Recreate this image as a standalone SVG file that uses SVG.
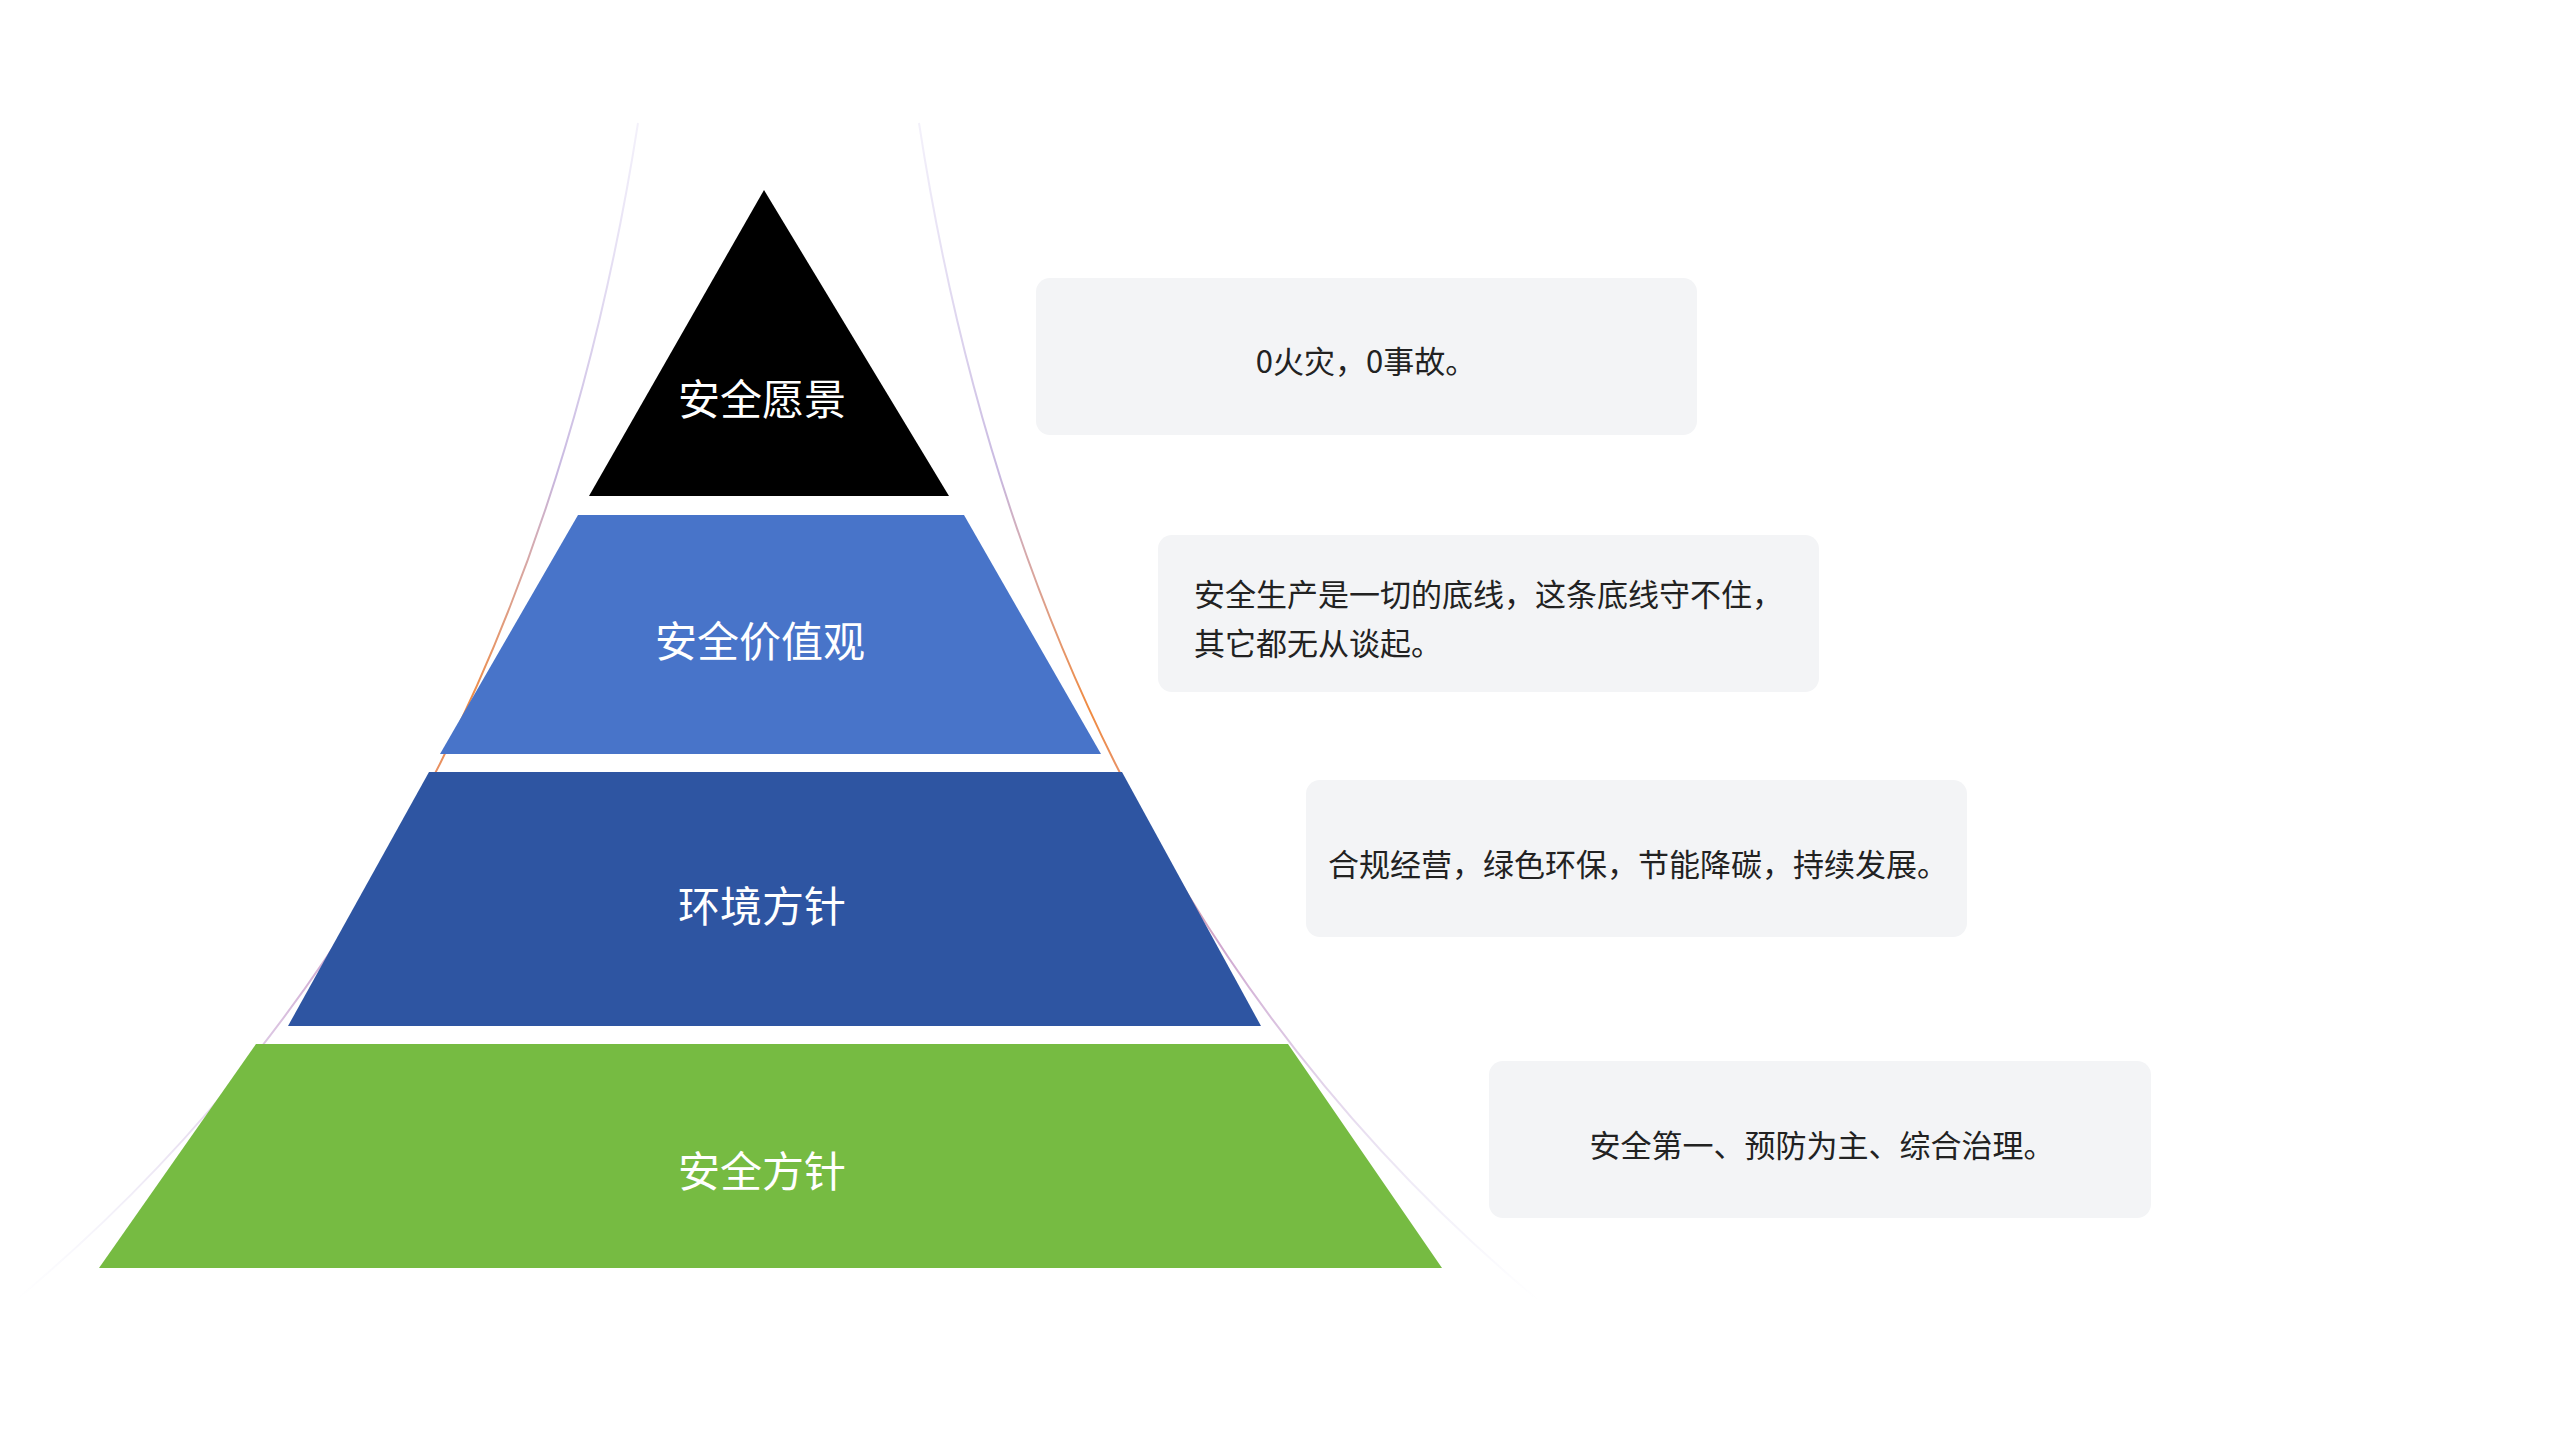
<svg xmlns="http://www.w3.org/2000/svg" width="2560" height="1440" viewBox="0 0 2560 1440">
<style>
.lbl{font-family:"Noto Sans CJK SC","Liberation Sans",sans-serif;font-size:42px;fill:#ffffff;text-anchor:middle;dominant-baseline:central}
.box{fill:#f3f4f6}
.txt{font-family:"Noto Sans CJK SC","Liberation Sans",sans-serif;font-size:31px;fill:#222222;dominant-baseline:central}
.curve{fill:none;stroke:url(#g);stroke-width:2}
</style>
<defs>
<linearGradient id="g" gradientUnits="userSpaceOnUse" x1="0" y1="123" x2="0" y2="1300">
<stop offset="0" stop-color="#d8d0f0" stop-opacity="0.3"/>
<stop offset="0.3" stop-color="#c8b8e0"/>
<stop offset="0.5" stop-color="#f08a40"/>
<stop offset="0.7" stop-color="#d0a8d0"/>
<stop offset="1" stop-color="#d0d0f0" stop-opacity="0"/>
</linearGradient>
</defs>
<g id="connectors">
<path class="curve" d="M638 123 Q520 880 16 1300"/>
<path class="curve" d="M919 123 Q1035 880 1538 1300"/>
</g>
<g id="level1"><polygon points="764,190 949,496 589,496" fill="#000000"/><text class="lbl" x="762" y="396">安全愿景</text></g>
<g id="level2"><polygon points="578,515 964,515 1101,754 440,754" fill="#4874c9"/><text class="lbl" x="760" y="638">安全价值观</text></g>
<g id="level3"><polygon points="429,772 1122,772 1261,1026 288,1026" fill="#2e55a2"/><text class="lbl" x="762" y="903">环境方针</text></g>
<g id="level4"><polygon points="256,1044 1288,1044 1442,1268 99,1268" fill="#76bb42"/><text class="lbl" x="762" y="1168">安全方针</text></g>
<g id="box1"><rect class="box" x="1036" y="278" width="661" height="157" rx="14"/><text class="txt" x="1366" y="359" text-anchor="middle">0火灾，0事故。</text></g>
<g id="box2"><rect class="box" x="1158" y="535" width="661" height="157" rx="14"/><text class="txt" x="1194" y="592">安全生产是一切的底线，这条底线守不住，</text><text class="txt" x="1194" y="641">其它都无从谈起。</text></g>
<g id="box3"><rect class="box" x="1306" y="780" width="661" height="157" rx="14"/><text class="txt" x="1638" y="862" text-anchor="middle">合规经营，绿色环保，节能降碳，持续发展。</text></g>
<g id="box4"><rect class="box" x="1489" y="1061" width="662" height="157" rx="14"/><text class="txt" x="1822" y="1143" text-anchor="middle">安全第一、预防为主、综合治理。</text></g>
</svg>
